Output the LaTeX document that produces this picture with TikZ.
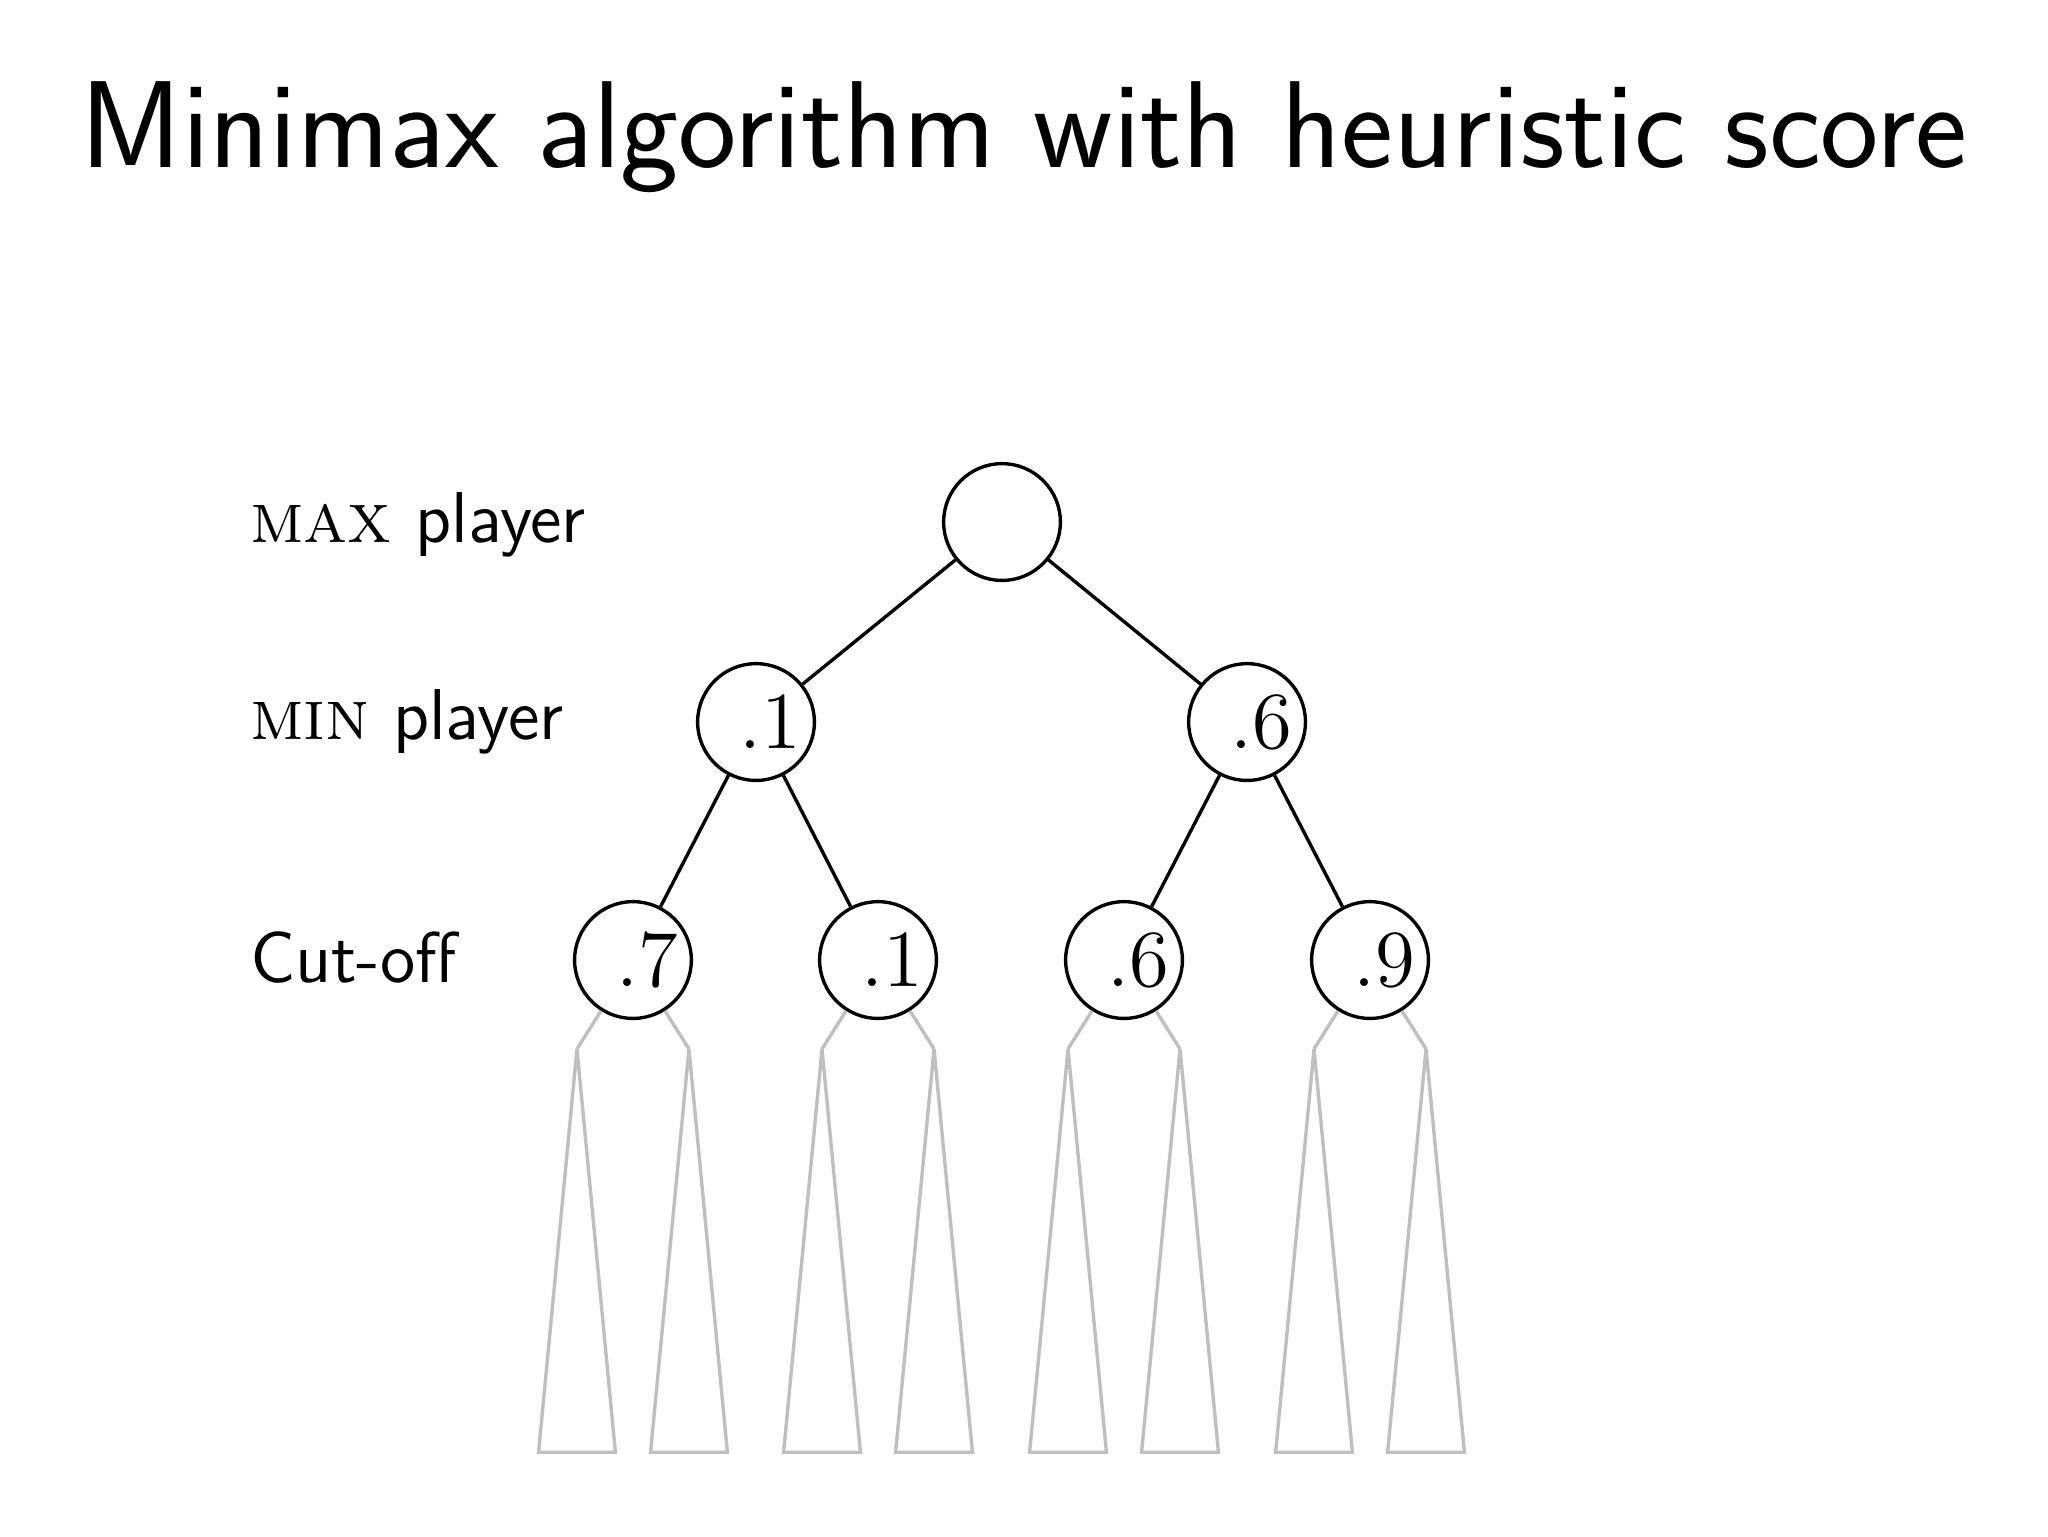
\documentclass[tikz,border=0pt]{standalone}
\usepackage{amsmath}
\usepackage{xcolor}
\usetikzlibrary{calc}
\newcommand{\val}[1]{\hspace*{0.18cm}$#1$}
\tikzset{%
    state/.style={circle,draw,semithick,inner sep=0pt,minimum size=0.73cm,font=\fontsize{13.5}{16}\selectfont},
    edge/.style={semithick},
    subtree/.style={draw=black!25,semithick,line join=miter},
    player/.style={anchor=base west,inner sep=0pt,font=\fontsize{12.8}{15}\sffamily},
}

\begin{document}
\begin{tikzpicture}
        \useasboundingbox (0,0) rectangle (12.8,-9.6);
        \node [anchor=base,inner sep=0pt,font=\fontsize{22}{26}\sffamily] (title) at (6.4,-1.044) {Minimax algorithm with heuristic score};

        \node [player] (lmax) at (1.556,-3.39) {{\rmfamily\textsc{max}} player};
        \node [player] (lmin) at (1.556,-4.62) {{\rmfamily\textsc{min}} player};
        \node [player] (lcut) at (1.556,-6.14) {Cut-off};

        \node [state] (root) at (6.2625,-3.2625) {};
        \node [state] (m1) at (4.725,-4.5125) {\val{.1}};
        \node [state] (m2) at (7.794,-4.5125) {\val{.6}};
        \node [state] (c1) at (3.956,-6) {\val{.7}};
        \node [state] (c2) at (5.4875,-6) {\val{.1}};
        \node [state] (c3) at (7.025,-6) {\val{.6}};
        \node [state] (c4) at (8.5625,-6) {\val{.9}};

        \draw [edge] (root) -- (m1);
        \draw [edge] (root) -- (m2);
        \draw [edge] (m1) -- (c1);
        \draw [edge] (m1) -- (c2);
        \draw [edge] (m2) -- (c3);
        \draw [edge] (m2) -- (c4);

        % subtrees below the cut-off
        \path (c1.center) ++(-0.35,-0.556) coordinate (c1l) ++(0.7,0) coordinate (c1r);
        \path (c2.center) ++(-0.35,-0.556) coordinate (c2l) ++(0.7,0) coordinate (c2r);
        \path (c3.center) ++(-0.35,-0.556) coordinate (c3l) ++(0.7,0) coordinate (c3r);
        \path (c4.center) ++(-0.35,-0.556) coordinate (c4l) ++(0.7,0) coordinate (c4r);

        \draw [subtree] (c1) -- (c1l);
        \draw [subtree] (c1) -- (c1r);
        \draw [subtree] (c2) -- (c2l);
        \draw [subtree] (c2) -- (c2r);
        \draw [subtree] (c3) -- (c3l);
        \draw [subtree] (c3) -- (c3r);
        \draw [subtree] (c4) -- (c4l);
        \draw [subtree] (c4) -- (c4r);

        \draw [subtree] (c1l) -- ++(-0.24,-2.52) -- ++(0.48,0) -- cycle;
        \draw [subtree] (c1r) -- ++(-0.24,-2.52) -- ++(0.48,0) -- cycle;
        \draw [subtree] (c2l) -- ++(-0.24,-2.52) -- ++(0.48,0) -- cycle;
        \draw [subtree] (c2r) -- ++(-0.24,-2.52) -- ++(0.48,0) -- cycle;
        \draw [subtree] (c3l) -- ++(-0.24,-2.52) -- ++(0.48,0) -- cycle;
        \draw [subtree] (c3r) -- ++(-0.24,-2.52) -- ++(0.48,0) -- cycle;
        \draw [subtree] (c4l) -- ++(-0.24,-2.52) -- ++(0.48,0) -- cycle;
        \draw [subtree] (c4r) -- ++(-0.24,-2.52) -- ++(0.48,0) -- cycle;
    \end{tikzpicture}
\end{document}
